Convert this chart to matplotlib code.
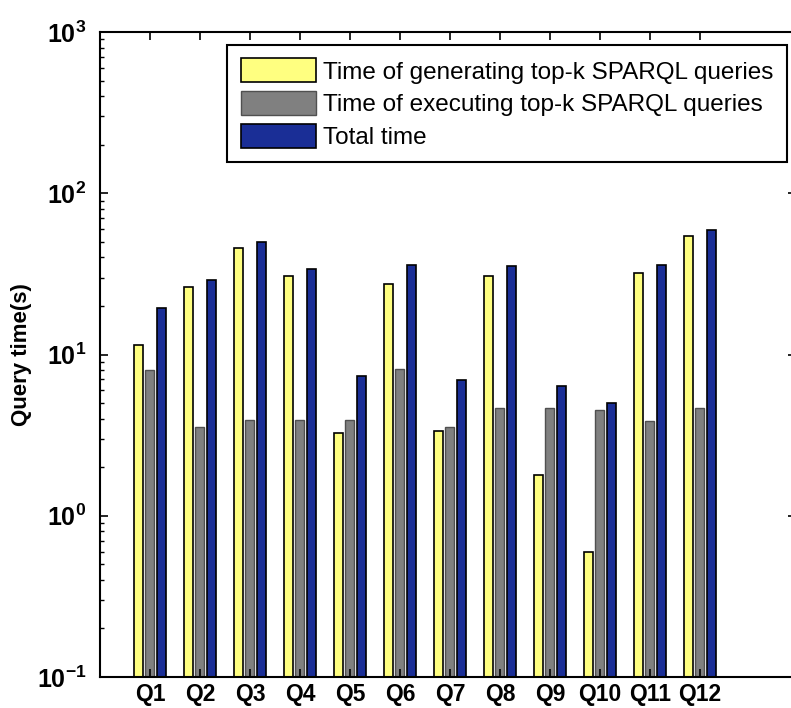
import matplotlib
matplotlib.use("Agg")
import matplotlib.pyplot as plt
import numpy as np

queries = ["Q1", "Q2", "Q3", "Q4", "Q5", "Q6", "Q7", "Q8", "Q9", "Q10", "Q11", "Q12"]
gen_time = [11.5, 26.2, 46.0, 30.6, 3.26, 27.5, 3.37, 30.6, 1.80, 0.60, 32.2, 54.1]
exec_time = [7.97, 3.53, 3.95, 3.95, 3.95, 8.15, 3.53, 4.64, 4.64, 4.54, 3.85, 4.64]
total_time = [19.4, 29.1, 49.9, 34.1, 7.33, 36.1, 6.96, 35.2, 6.42, 5.03, 36.1, 58.9]
labels = ["Time of generating top-k SPARQL queries",
          "Time of executing top-k SPARQL queries",
          "Total time"]
ytick_vals = [0.1, 1, 10, 100, 1000]
ytick_labels = [r"$\mathbf{10^{-1}}$", r"$\mathbf{10^{0}}$", r"$\mathbf{10^{1}}$",
                r"$\mathbf{10^{2}}$", r"$\mathbf{10^{3}}$"]

plt.rcParams["mathtext.fontset"] = "custom"
plt.rcParams["mathtext.bf"] = "Liberation Sans:bold"
plt.rcParams["mathtext.rm"] = "Liberation Sans"

fig = plt.figure(figsize=(7.91, 7.08), dpi=100)
fig.patch.set_facecolor("white")
ax = fig.add_axes([100/791, 31/708, 696/791, 645/708])

x = np.arange(1, len(queries) + 1)
w = 0.18
ax.bar(x - 0.23, gen_time, w, color="#FFFF80", edgecolor="black", linewidth=1.2, label=labels[0])
ax.bar(x, exec_time, w, color="#808080", edgecolor="#505050", linewidth=1.0, label=labels[1])
ax.bar(x + 0.23, total_time, w, color="#1A2E96", edgecolor="black", linewidth=1.2, label=labels[2])

ax.set_yscale("log")
ax.set_ylim(0.1, 1000)
ax.set_xlim(0, 13.92)
ax.set_yticks(ytick_vals)
ax.set_yticklabels(ytick_labels, fontsize=18)
ax.set_xticks(x)
ax.set_xticklabels(queries, fontsize=16.5, fontweight="bold", family="Liberation Sans")
ax.tick_params(axis="both", which="both", direction="in", top=True, right=True)
ax.tick_params(axis="both", which="major", length=6, width=1.2)
ax.tick_params(axis="y", which="minor", length=3, width=1.0)
ax.tick_params(axis="x", pad=4)
ax.tick_params(axis="y", pad=10)
for s in ax.spines.values():
    s.set_linewidth(1.5)

ax.set_ylabel("Query time(s)", fontsize=16, fontweight="bold", family="Liberation Sans")
ax.yaxis.set_label_coords(-68/696, 0.5)

leg = ax.legend(loc="upper right", bbox_to_anchor=(687/696, 632/645),
                borderaxespad=0,
                prop={"family": "Liberation Sans", "size": 17.5},
                handlelength=3.1, handleheight=1.15, labelspacing=0.3,
                fancybox=False, framealpha=1, edgecolor="black",
                borderpad=0.55, handletextpad=0.3)
leg.get_frame().set_linewidth(1.5)

fig.savefig("out.png", dpi=100)
